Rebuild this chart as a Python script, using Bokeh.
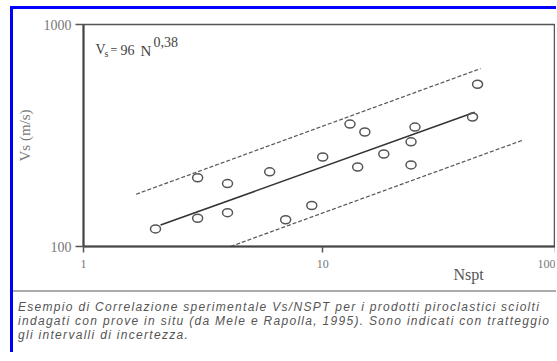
from bokeh.plotting import figure
from bokeh.models import (Label, FixedTicker, NumeralTickFormatter, Range1d, Title, Div, Spacer)
from bokeh.layouts import column, row
from bokeh.embed import file_html
from bokeh.resources import INLINE

# ---- data ----
nspt = [2, 3, 3, 4, 4, 6, 7, 9, 10, 13, 14, 15, 18, 23.4, 23.4, 24.3, 42.3, 44.4]
vs = [120, 204, 134, 192, 142, 217, 132, 153, 253, 356, 228, 328, 261, 296, 233, 345, 383, 538]

fit_n = [2.1, 43.2]
fit_vs = [125, 402]
upper_n = [1.66, 45.7]
upper_vs = [172, 633]
lower_n = [4.12, 69.0]
lower_vs = [100, 302]

x_ticks = [1, 10, 94]          # 94 = right edge, where the cut "100" label sits
x_tick_labels = {1: "1", 10: "10", 94: "100"}
y_ticks = [100, 1000]

caption = [
    "Esempio di Correlazione sperimentale Vs/NSPT per i prodotti piroclastici sciolti",
    "indagati con prove in situ (da Mele e Rapolla, 1995). Sono indicati con tratteggio",
    "gli intervalli di incertezza.",
]

SERIF = "Liberation Serif"
SANS = "Liberation Sans"
BLUE = "#0000ff"

W = 543
p = figure(width=W - 1, height=281, x_axis_type="log", y_axis_type="log",
           x_range=Range1d(1, 94), y_range=Range1d(100, 1000),
           output_backend="svg", toolbar_location=None,
           min_border_left=67, min_border_right=0, min_border_top=15, min_border_bottom=44)
p.xgrid.visible = False
p.ygrid.visible = False
p.outline_line_color = "#555555"
p.outline_line_width = 1.5
p.background_fill_color = "white"
p.border_fill_color = "white"

for ax in (p.xaxis[0], p.yaxis[0]):
    ax.axis_line_color = "#444444"
    ax.axis_line_width = 2
    ax.major_tick_line_color = "#555555"
    ax.major_tick_line_width = 1.5
    ax.major_tick_in = 0
    ax.minor_tick_line_color = None
    ax.major_label_text_font = SERIF
    ax.major_label_text_color = "#777777"
    ax.formatter = NumeralTickFormatter(format="0")

p.xaxis.ticker = FixedTicker(ticks=x_ticks)
p.xaxis.major_label_overrides = x_tick_labels
p.yaxis.ticker = FixedTicker(ticks=y_ticks)
p.xaxis.major_tick_out = 6
p.yaxis.major_tick_out = 8
p.xaxis.major_label_text_font_size = "12px"
p.yaxis.major_label_text_font_size = "14px"
p.xaxis.major_label_standoff = 7
p.yaxis.major_label_standoff = 4

p.yaxis.axis_label = "Vs (m/s)"
p.yaxis.axis_label_text_font = SERIF
p.yaxis.axis_label_text_font_style = "normal"
p.yaxis.axis_label_text_font_size = "15px"
p.yaxis.axis_label_text_color = "#777777"
p.yaxis.axis_label_standoff = 8

# x axis name, right-aligned under the axis
p.add_layout(Title(text="Nspt", align="left", offset=370, standoff=-10,
                   vertical_align="top",
                   text_font=SERIF, text_font_size="16px", text_font_style="normal",
                   text_color="#555555"), "below")

# lines
p.line(fit_n, fit_vs, line_color="#333333", line_width=1.6)
p.line(upper_n, upper_vs, line_color="#555555", line_width=1.2, line_dash="4 2")
p.line(lower_n, lower_vs, line_color="#555555", line_width=1.2, line_dash="4 2")

# points
p.ellipse(x=nspt, y=vs, width=10, height=8, width_units="screen", height_units="screen",
          fill_color=None, line_color="#555555", line_width=1.5)

# formula  V_s = 96 N^0,38
def lab(text, x, y, size, color="#444444"):
    p.add_layout(Label(x=x, y=y, x_units="screen", y_units="screen", text=text,
                       text_font=SERIF, text_font_size=size, text_color=color,
                       text_baseline="alphabetic"))

lab("V", 12, 197, "14px")
lab("s", 21, 193, "10px")
lab("=", 27, 197, "12px")
lab("96", 37, 197, "14px")
lab("N", 57, 196, "15px")
lab("0,38", 70, 205, "14px")

cap = Div(text="<br>".join(caption), width=W, height=62, margin=(0, 0, 0, 0),
          styles={"font-family": SANS, "font-style": "italic", "font-size": "12px",
                  "line-height": "14px", "color": "#555555", "letter-spacing": "1.3px",
                  "border-top": "2px solid #aaaaaa", "padding-top": "8px",
                  "padding-left": "5px", "box-sizing": "border-box",
                  "white-space": "nowrap", "overflow": "hidden"})

top_strip = Div(text="", width=W, height=3, margin=(0, 0, 0, 0),
                styles={"background-color": BLUE})
left_strip = Div(text="", width=3, height=346, margin=(0, 0, 0, 0),
                 styles={"background-color": BLUE})

right_part = column(top_strip, p, cap, spacing=0)
body = row(Spacer(width=10, height=346), left_strip, right_part, spacing=0)
layout = column(Spacer(width=556, height=6), body, spacing=0)

open("out.html", "w").write(file_html(layout, INLINE))
